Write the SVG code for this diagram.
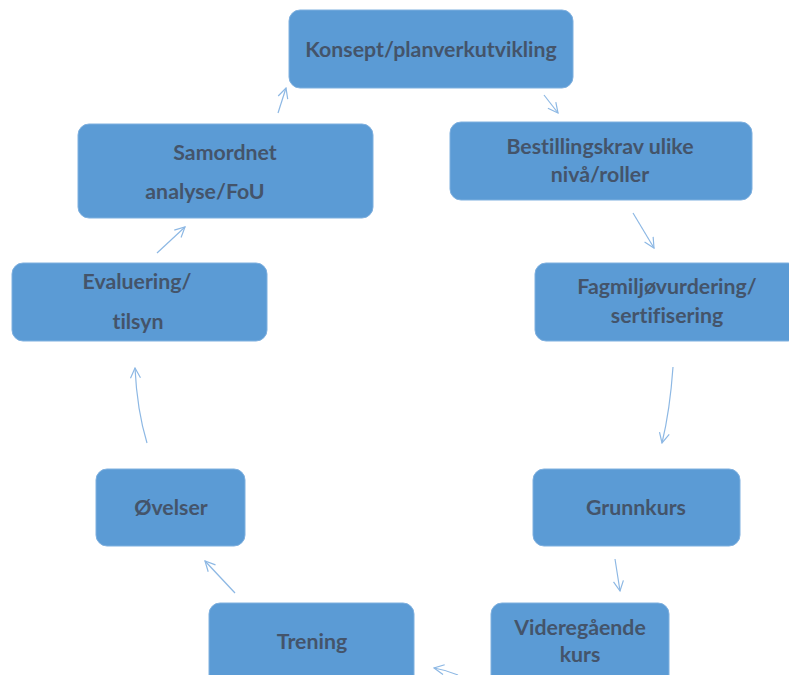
<svg xmlns="http://www.w3.org/2000/svg" width="789" height="675" viewBox="0 0 789 675">
<defs>
<style>
.box{fill:#5B9BD5;stroke:#7FB0DF;stroke-width:1}
.t{font-family:Lato,"Open Sans","Liberation Sans",sans-serif;font-weight:bold;font-size:21.3px;fill:#44546A;text-anchor:middle;font-variant-ligatures:none}
.c{fill:none;stroke:#8DB8E4;stroke-width:1.2;marker-end:url(#ah)}
</style>
<marker id="ah" viewBox="0 0 12 12" refX="11" refY="6" markerWidth="12" markerHeight="12" markerUnits="userSpaceOnUse" orient="auto">
<path d="M1,1 L11,6 L1,11" fill="none" stroke="#8DB8E4" stroke-width="1.2"/>
</marker>
</defs>
<rect width="789" height="675" fill="#FFFFFF"/>
<g id="connectors">
<path class="c" d="M278,113 L286,88"/>
<path class="c" d="M544,95 L558,113"/>
<path class="c" d="M633,213 L654,248"/>
<path class="c" d="M673,367 Q670,410 662,443"/>
<path class="c" d="M615,559 L620,591"/>
<path class="c" d="M458,675 Q446,670 434,668"/>
<path class="c" d="M235,593 L205,561"/>
<path class="c" d="M147,443 Q137,410 135,368"/>
<path class="c" d="M157,253 L185,227"/>
</g>
<g id="n-konsept">
<rect class="box" x="289" y="10" width="284" height="78" rx="11"/>
<text class="t" x="431" y="57">Konsept/planverkutvikling</text>
</g>
<g id="n-bestilling">
<rect class="box" x="450" y="122" width="302" height="78" rx="11"/>
<text class="t" x="600" y="154">Bestillingskrav ulike</text>
<text class="t" x="600" y="182">nivå/roller</text>
</g>
<g id="n-fagmiljo">
<rect class="box" x="535" y="263" width="264" height="78" rx="11"/>
<text class="t" x="667" y="294">Fagmiljøvurdering/</text>
<text class="t" x="667" y="323">sertifisering</text>
</g>
<g id="n-grunnkurs">
<rect class="box" x="533" y="469" width="207" height="77" rx="11"/>
<text class="t" x="636" y="515">Grunnkurs</text>
</g>
<g id="n-videregaende">
<rect class="box" x="491" y="603" width="178" height="90" rx="11"/>
<text class="t" x="580" y="635">Videregående</text>
<text class="t" x="580" y="662">kurs</text>
</g>
<g id="n-trening">
<rect class="box" x="209" y="603" width="205" height="90" rx="11"/>
<text class="t" x="312" y="649">Trening</text>
</g>
<g id="n-ovelser">
<rect class="box" x="96" y="469" width="149" height="77" rx="11"/>
<text class="t" x="171" y="515">Øvelser</text>
</g>
<g id="n-evaluering">
<rect class="box" x="12" y="263" width="255" height="78" rx="11"/>
<text class="t" x="137" y="289">Evaluering/</text>
<text class="t" x="138" y="329">tilsyn</text>
</g>
<g id="n-samordnet">
<rect class="box" x="78" y="124" width="295" height="94" rx="11"/>
<text class="t" x="225" y="160">Samordnet</text>
<text class="t" x="205" y="199">analyse/FoU</text>
</g>
</svg>
